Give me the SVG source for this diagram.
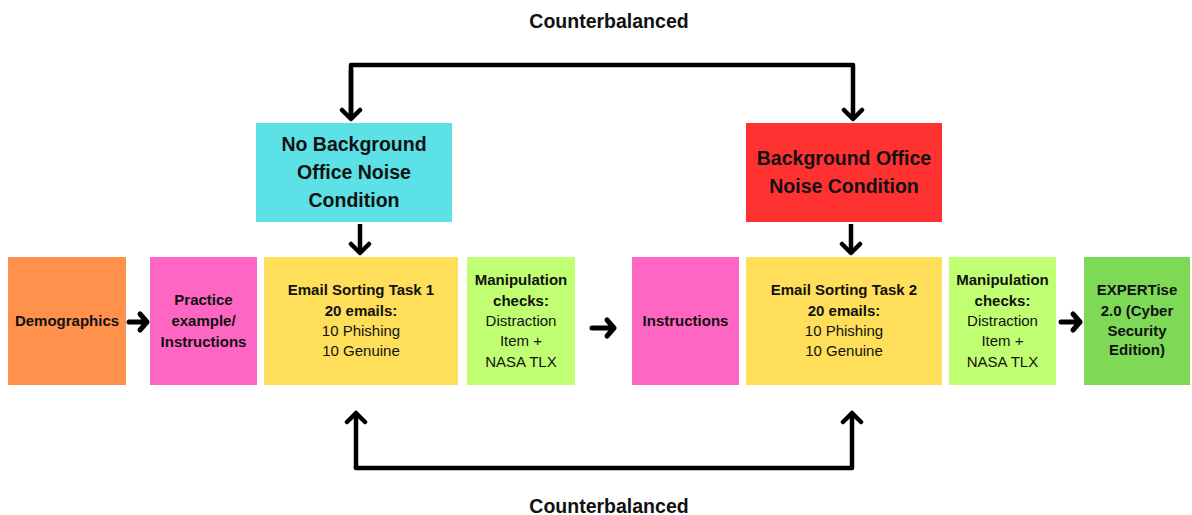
<svg xmlns="http://www.w3.org/2000/svg" width="1192" height="515" viewBox="0 0 1192 515">
<style>
text{font-family:"Liberation Sans",Arial,sans-serif;fill:#111;text-anchor:middle}
.b{font-weight:bold}
.t{font-size:15px}
.h{font-size:19.5px;font-weight:bold}
.c{fill:none;stroke:#000;stroke-width:4.5;stroke-linejoin:round}
.s{fill:none;stroke:#000;stroke-width:5;stroke-linecap:round;stroke-linejoin:round}
</style>
<defs>
<marker id="ah" markerUnits="userSpaceOnUse" viewBox="0 0 24 24" refX="14" refY="12" markerWidth="24" markerHeight="24" orient="auto">
<path d="M5,3 L14,12 L5,21" fill="none" stroke="#000" stroke-width="4.5" stroke-linecap="round" stroke-linejoin="round"/>
</marker>
</defs>
<rect width="1192" height="515" fill="#fff"/>
<text class="h" x="609" y="28">Counterbalanced</text>
<text class="h" x="609" y="513">Counterbalanced</text>

<g id="connectors">
<path class="c" d="M351,119 V65 H853 V119" marker-end="url(#ah)"/>
<path class="c" d="M351,70 V119" marker-end="url(#ah)"/>
<path class="c" d="M356,466 V468 H852 V413" marker-end="url(#ah)"/>
<path class="c" d="M356,468 V413" marker-end="url(#ah)"/>
<path class="c" d="M360,224 V253" marker-end="url(#ah)"/>
<path class="c" d="M851,224 V253" marker-end="url(#ah)"/>
<g class="s">
<path d="M129,322 H147 M140,314 L147,322 L140,330"/>
<path d="M592,328 H614 M607,320 L614,328 L607,336"/>
<path d="M1061,322 H1080 M1073,314 L1080,322 L1073,330"/>
</g>
</g>

<g id="no-noise">
<rect x="256" y="123" width="196" height="99" fill="#5CE1E6"/>
<text class="h" x="354" y="151">No Background</text>
<text class="h" x="354" y="179">Office Noise</text>
<text class="h" x="354" y="207">Condition</text>
</g>
<g id="noise">
<rect x="746" y="123" width="196" height="99" fill="#FF3131"/>
<text class="h" x="844" y="165">Background Office</text>
<text class="h" x="844" y="193">Noise Condition</text>
</g>

<g id="demographics">
<rect x="8" y="257" width="118" height="128" fill="#FF914D"/>
<text class="t b" x="67" y="326">Demographics</text>
</g>
<g id="practice">
<rect x="150" y="257" width="107" height="128" fill="#FF66C4"/>
<text class="t b" x="203.5" y="305">Practice</text>
<text class="t b" x="203.5" y="326">example/</text>
<text class="t b" x="203.5" y="347">Instructions</text>
</g>
<g id="task1">
<rect x="264" y="257" width="194" height="128" fill="#FFDE59"/>
<text class="t b" x="361" y="295">Email Sorting Task 1</text>
<text class="t b" x="361" y="316">20 emails:</text>
<text class="t" x="361" y="336">10 Phishing</text>
<text class="t" x="361" y="356">10 Genuine</text>
</g>
<g id="checks1">
<rect x="467" y="257" width="108" height="128" fill="#C1FF72"/>
<text class="t b" x="521" y="285">Manipulation</text>
<text class="t b" x="521" y="306">checks:</text>
<text class="t" x="521" y="326">Distraction</text>
<text class="t" x="521" y="346">Item +</text>
<text class="t" x="521" y="367">NASA TLX</text>
</g>
<g id="instructions">
<rect x="632" y="257" width="107" height="128" fill="#FF66C4"/>
<text class="t b" x="685.5" y="326">Instructions</text>
</g>
<g id="task2">
<rect x="746" y="257" width="196" height="128" fill="#FFDE59"/>
<text class="t b" x="844" y="295">Email Sorting Task 2</text>
<text class="t b" x="844" y="316">20 emails:</text>
<text class="t" x="844" y="336">10 Phishing</text>
<text class="t" x="844" y="356">10 Genuine</text>
</g>
<g id="checks2">
<rect x="949" y="257" width="107" height="128" fill="#C1FF72"/>
<text class="t b" x="1002.5" y="285">Manipulation</text>
<text class="t b" x="1002.5" y="306">checks:</text>
<text class="t" x="1002.5" y="326">Distraction</text>
<text class="t" x="1002.5" y="346">Item +</text>
<text class="t" x="1002.5" y="367">NASA TLX</text>
</g>
<g id="expertise">
<rect x="1084" y="257" width="106" height="128" fill="#7ED957"/>
<text class="t b" x="1137" y="295">EXPERTise</text>
<text class="t b" x="1137" y="316">2.0 (Cyber</text>
<text class="t b" x="1137" y="336">Security</text>
<text class="t b" x="1137" y="355">Edition)</text>
</g>
</svg>
